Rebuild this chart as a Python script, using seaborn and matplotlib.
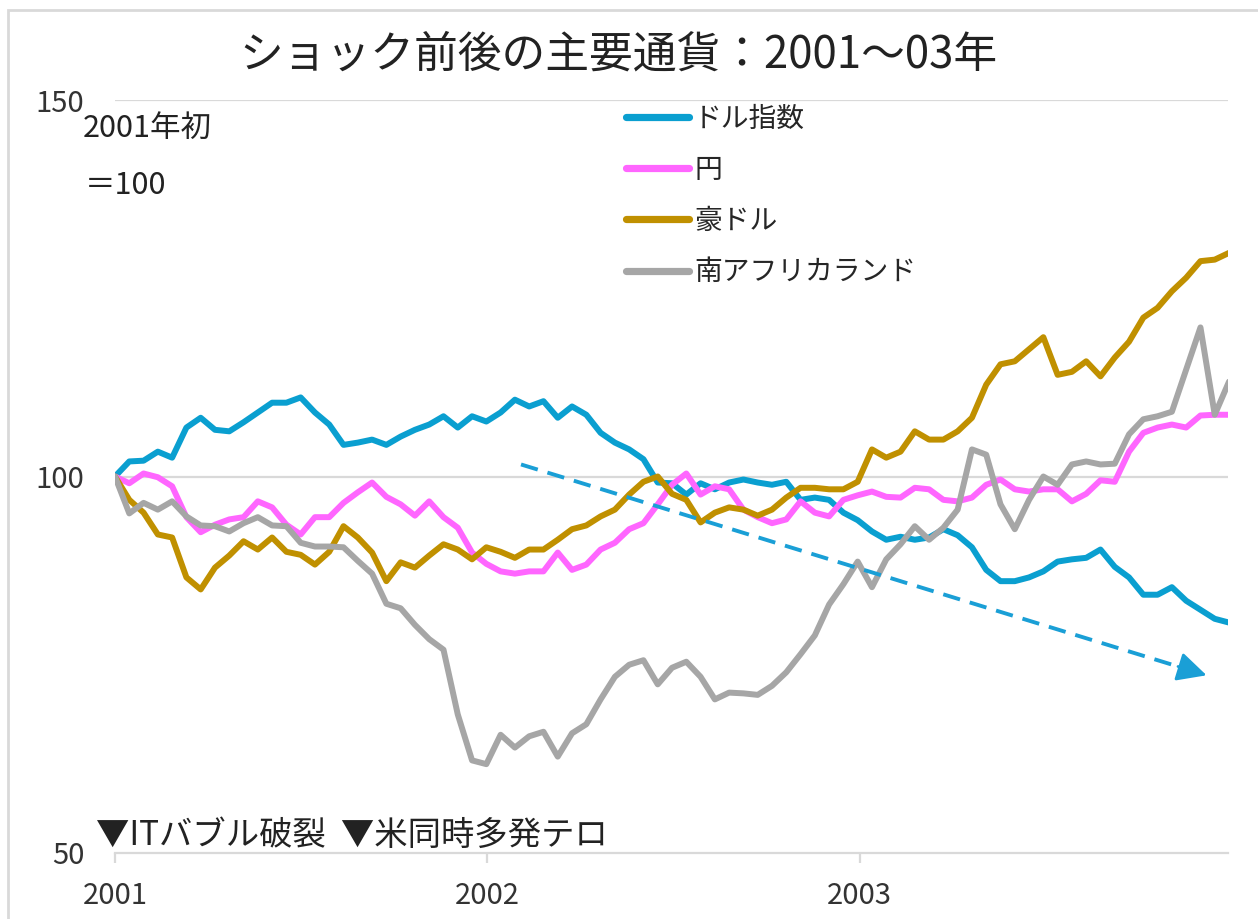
import matplotlib
matplotlib.use('Agg')

import pandas as pd
import numpy as np
import seaborn as sns
import matplotlib.pyplot as plt
from matplotlib.patches import Rectangle

# biweekly observations, index 2001-01-01 = 100
dates = pd.date_range('2001-01-01', periods=79, freq='14D')

usd_index = [100.0, 102.0, 102.1, 103.3, 102.5, 106.5, 107.8, 106.2, 106.0, 107.2,
             108.5, 109.8, 109.8, 110.5, 108.5, 106.9, 104.2, 104.5, 104.9, 104.2,
             105.3, 106.2, 106.9, 108.0, 106.5, 108.0, 107.3, 108.5, 110.2, 109.3,
             110.0, 107.8, 109.3, 108.2, 105.8, 104.5, 103.6, 102.3, 99.2, 99.1,
             97.6, 99.1, 98.3, 99.2, 99.6, 99.2, 98.9, 99.3, 96.9, 97.2,
             96.9, 95.2, 94.2, 92.7, 91.6, 92.0, 91.6, 91.9, 93.0, 92.2,
             90.6, 87.6, 86.1, 86.1, 86.6, 87.4, 88.7, 89.0, 89.2, 90.3,
             88.0, 86.6, 84.3, 84.3, 85.3, 83.5, 82.3, 81.1, 80.6]

jpy = [100.0, 99.1, 100.4, 99.9, 98.7, 94.6, 92.6, 93.6, 94.3, 94.6,
       96.7, 95.9, 93.6, 92.3, 94.6, 94.6, 96.5, 97.9, 99.2, 97.3,
       96.3, 94.8, 96.7, 94.6, 93.2, 89.9, 88.4, 87.4, 87.1, 87.4,
       87.4, 89.9, 87.6, 88.3, 90.3, 91.2, 93.0, 93.8, 96.3, 98.9,
       100.4, 97.6, 98.7, 98.3, 95.6, 94.6, 93.8, 94.3, 96.7, 95.2,
       94.7, 96.9, 97.5, 98.0, 97.3, 97.2, 98.5, 98.3, 96.9, 96.7,
       97.2, 98.9, 99.6, 98.3, 98.0, 98.3, 98.3, 96.7, 97.7, 99.5,
       99.3, 103.3, 105.8, 106.5, 106.9, 106.5, 108.1, 108.2, 108.2]

aud = [100.0, 96.9, 95.2, 92.3, 91.9, 86.6, 85.0, 87.9, 89.5, 91.4,
       90.3, 91.9, 90.0, 89.6, 88.3, 90.0, 93.4, 91.9, 89.9, 86.1,
       88.6, 87.9, 89.5, 91.0, 90.3, 89.0, 90.6, 90.0, 89.2, 90.3,
       90.3, 91.6, 93.0, 93.5, 94.7, 95.6, 97.6, 99.3, 100.0, 97.7,
       96.9, 93.9, 95.2, 95.9, 95.6, 94.8, 95.6, 97.2, 98.5, 98.5,
       98.3, 98.3, 99.3, 103.6, 102.5, 103.3, 106.0, 104.9, 104.9, 106.0,
       107.8, 112.2, 114.9, 115.3, 116.9, 118.5, 113.5, 113.9, 115.3, 113.3,
       115.8, 117.9, 121.1, 122.4, 124.6, 126.4, 128.6, 128.8, 129.7]

zar = [100.0, 95.1, 96.5, 95.6, 96.7, 94.7, 93.5, 93.4, 92.7, 93.8,
       94.6, 93.5, 93.4, 91.2, 90.7, 90.7, 90.6, 88.8, 87.1, 83.1,
       82.5, 80.3, 78.4, 77.0, 68.4, 62.3, 61.8, 65.7, 64.0, 65.5,
       66.1, 62.8, 65.9, 67.1, 70.4, 73.4, 75.0, 75.6, 72.4, 74.6,
       75.4, 73.4, 70.4, 71.3, 71.2, 71.0, 72.2, 74.0, 76.4, 78.9,
       83.0, 85.7, 88.7, 85.3, 89.0, 91.0, 93.4, 91.6, 93.2, 95.6,
       103.6, 102.9, 96.3, 93.0, 96.9, 100.0, 98.9, 101.6, 102.0, 101.6,
       101.7, 105.6, 107.6, 108.0, 108.6, 114.2, 119.8, 108.2, 112.6]

labels = ['ドル指数', '円', '豪ドル', '南アフリカランド']
colors = ['#0a9fd0', '#ff66ff', '#c09000', '#a6a6a6']

# trend arrow: start, end, and the point where the solid head begins
arrow_start = (pd.Timestamp('2002-02-03'), 101.6)
arrow_end = (pd.Timestamp('2003-12-07'), 73.6)
head_base = (pd.Timestamp('2003-11-09'), 74.77)

df = pd.DataFrame({'date': dates, labels[0]: usd_index, labels[1]: jpy,
                   labels[2]: aud, labels[3]: zar})
long_df = df.melt(id_vars='date', var_name='series', value_name='value')

sns.set_style('white')
plt.rcParams['font.family'] = ['Noto Sans CJK JP', 'DejaVu Sans']

fig = plt.figure(figsize=(12.58, 9.19), dpi=100)
ax = fig.add_axes([115 / 1258, 1 - 853 / 919, (1228 - 115) / 1258, (853 - 100) / 919])

sns.lineplot(data=long_df, x='date', y='value', hue='series', hue_order=labels,
             palette=dict(zip(labels, colors)), linewidth=4.3, ax=ax)

ax.set_xlim(pd.Timestamp('2001-01-01'), pd.Timestamp('2003-12-28'))
ax.set_ylim(50, 150)
ax.set_yticks([50, 100, 150])
ax.set_xticks([pd.Timestamp(f'{y}-01-01') for y in (2001, 2002, 2003)])
ax.set_xticklabels(['2001', '2002', '2003'])
ax.set_xlabel('')
ax.set_ylabel('')

for y in (100, 150):
    ax.axhline(y, color='#d9d9d9', lw=1.6, zorder=0)
for s in ('left', 'right', 'top'):
    ax.spines[s].set_visible(False)
ax.spines['bottom'].set_color('#d9d9d9')
ax.spines['bottom'].set_linewidth(1.6)
ax.tick_params(axis='x', length=7, width=1.6, color='#d9d9d9', pad=13,
               labelsize=21, labelcolor='#333333', direction='out', bottom=True)
ax.tick_params(axis='y', length=0, pad=22, labelsize=21, labelcolor='#333333')

# dashed trend line with a solid head
ax.plot([arrow_start[0], head_base[0]], [arrow_start[1], head_base[1]],
        color='#1a9fd6', lw=2.8, linestyle=(0, (4.5, 2.6)))
ax.annotate('', xy=arrow_end, xytext=head_base,
            arrowprops=dict(arrowstyle='-|>,head_length=0.9,head_width=0.45', color='#1a9fd6',
                            lw=2.0, shrinkA=0, shrinkB=0, mutation_scale=20))

leg = ax.legend(loc='upper left', bbox_to_anchor=(626 / 1258, 1 - 104 / 919),
                bbox_transform=fig.transFigure, frameon=False, fontsize=20,
                handlelength=2.25, handletextpad=0.2, labelspacing=0.76,
                borderpad=0, borderaxespad=0)
for line in leg.get_lines():
    line.set_linewidth(5.2)
    line.set_solid_capstyle('round')

fig.text(83 / 1258, 1 - 128 / 919, '2001年初', fontsize=22, va='center', color='#222222')
fig.text(85 / 1258, 1 - 185 / 919, '＝100', fontsize=22, va='center', color='#222222')
fig.text(96 / 1258, 1 - 835 / 919, '▼ITバブル破裂  ▼米同時多発テロ', fontsize=24,
         va='center', color='#222222')
fig.text(618 / 1258, 1 - 55 / 919, 'ショック前後の主要通貨：2001～03年', fontsize=31.5,
         ha='center', va='center', color='#222222')

fig.patches.append(Rectangle((8 / 1258, -0.1), 1.2, 1.1 - 10 / 919, transform=fig.transFigure,
                             fill=False, edgecolor='#d9d9d9', lw=2))

fig.savefig('out.png', dpi=100)
